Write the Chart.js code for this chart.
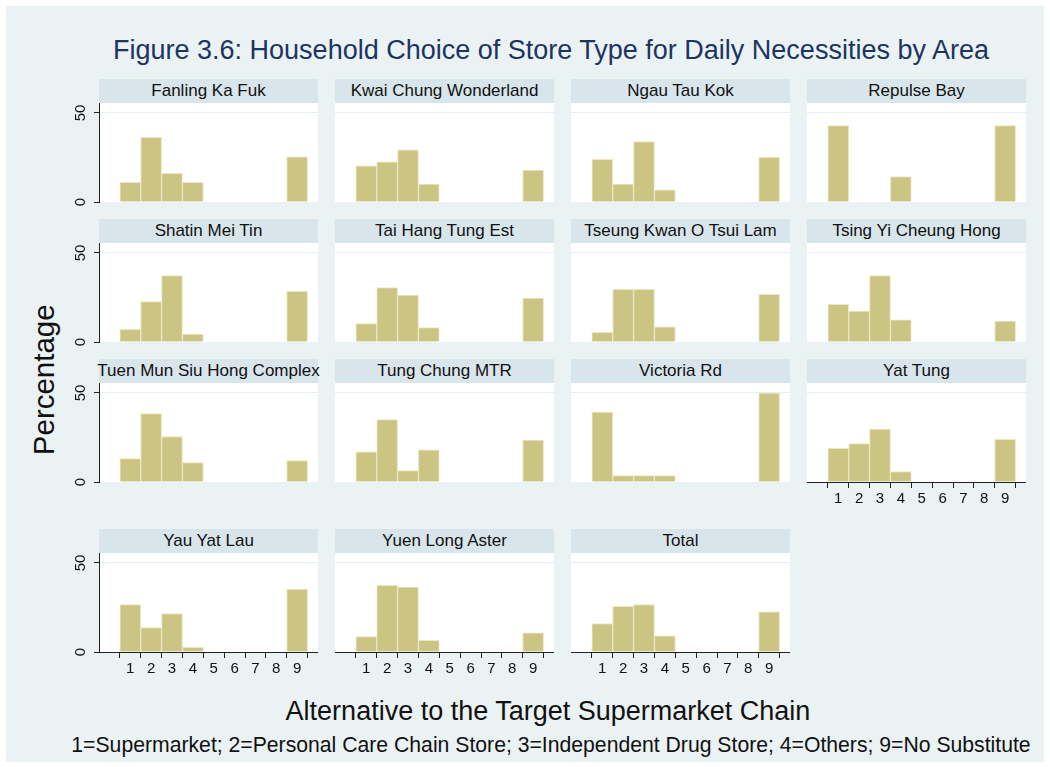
<!DOCTYPE html>
<html lang="en">
<head>
  <meta charset="UTF-8" />
  <title>Figure 3.6</title>
  <style>
    body {
      margin: 0;
      background: #ffffff;
      font-family: 'Liberation Sans', Arial, sans-serif;
      color: #111;
    }

    #frame {
      position: absolute;
      left: 6px;
      top: 6px;
      width: 1038px;
      height: 756px;
      background: #eaf2f3;
    }

    .strip {
      position: absolute;
      width: 219px;
      height: 24px;
      background: #d8e5eb;
      font-size: 17px;
      line-height: 24px;
      display: flex;
      justify-content: center;
      white-space: nowrap;
    }

    .panel {
      position: absolute;
    }

    .label {
      position: absolute;
      white-space: nowrap;
      text-align: center;
      line-height: 1;
    }

    #title {
      left: 51px;
      width: 1000px;
      top: 37px;
      font-size: 27px;
      color: #1d3461;
    }

    #x-title {
      left: 48px;
      width: 1000px;
      top: 698px;
      font-size: 27px;
    }

    #note {
      left: 51px;
      width: 1000px;
      top: 734px;
      font-size: 21.2px;
    }

    #y-title {
      left: -56px;
      width: 200px;
      top: 365px;
      font-size: 29.5px;
      transform: rotate(-90deg);
    }
  </style>
</head>
<body>
  <div id="frame"></div>
  <div class="label" id="title">Figure 3.6: Household Choice of Store Type for Daily Necessities by Area</div>
  <div class="label" id="y-title">Percentage</div>
  <div class="label" id="x-title">Alternative to the Target Supermarket Chain</div>
  <div class="label" id="note">1=Supermarket; 2=Personal Care Chain Store; 3=Independent Drug Store; 4=Others; 9=No Substitute</div>
  <div id="panels"></div>

  <script src="https://cdn.jsdelivr.net/npm/chart.js"></script>
  <script>
    // store type codes (x) and the percentage in each area
    const categories = [1, 2, 3, 4, 9];
    const xTicks = [1, 2, 3, 4, 5, 6, 7, 8, 9];
    const yTicks = [0, 50];

    const fanlingKaFuk = [11.1, 36.3, 16.1, 11.1, 25.4];
    const kwaiChungWonderland = [20.3, 22.5, 29.3, 10.1, 17.9];
    const ngauTauKok = [24.0, 10.0, 34.0, 6.9, 25.1];
    const repulseBay = [42.9, null, null, 14.3, 42.9];
    const shatinMeiTin = [7.1, 22.7, 37.3, 4.5, 28.4];
    const taiHangTungEst = [10.3, 30.6, 26.4, 8.1, 24.6];
    const tseungKwanO = [5.5, 29.6, 29.6, 8.5, 26.8];
    const tsingYiCheungHong = [21.1, 17.4, 37.3, 12.4, 11.8];
    const tuenMunSiuHong = [13.1, 38.4, 25.5, 10.9, 12.1];
    const tungChungMTR = [17.0, 35.0, 6.4, 18.1, 23.5];
    const victoriaRd = [39.3, 3.6, 3.6, 3.6, 50.0];
    const yatTung = [18.9, 21.6, 29.7, 5.9, 23.9];
    const yauYatLau = [26.7, 13.7, 21.6, 2.6, 35.4];
    const yuenLongAster = [8.7, 37.5, 36.4, 6.6, 10.8];
    const total = [16.0, 25.7, 26.7, 9.1, 22.5];

    const panels = [
      ['Fanling Ka Fuk', fanlingKaFuk],
      ['Kwai Chung Wonderland', kwaiChungWonderland],
      ['Ngau Tau Kok', ngauTauKok],
      ['Repulse Bay', repulseBay],
      ['Shatin Mei Tin', shatinMeiTin],
      ['Tai Hang Tung Est', taiHangTungEst],
      ['Tseung Kwan O Tsui Lam', tseungKwanO],
      ['Tsing Yi Cheung Hong', tsingYiCheungHong],
      ['Tuen Mun Siu Hong Complex', tuenMunSiuHong],
      ['Tung Chung MTR', tungChungMTR],
      ['Victoria Rd', victoriaRd],
      ['Yat Tung', yatTung],
      ['Yau Yat Lau', yauYatLau],
      ['Yuen Long Aster', yuenLongAster],
      ['Total', total],
    ];

    // grid geometry
    const colLeft = [99, 335, 571, 807];
    const rowZero = [202, 342, 482, 652];
    const plotW = 219;
    const plotH = 99;
    const axisW = 40;
    const axisH = 35;
    const ink = '#222';
    const font = { family: "'Liberation Sans', Arial, sans-serif", size: 15 };

    // keep every plot area the same size: no label overhang padding
    function fixSize(scale, w, h) {
      if (w !== null) scale.width = w;
      if (h !== null) scale.height = h;
      scale.paddingLeft = 0;
      scale.paddingRight = 0;
      scale.paddingTop = 0;
      scale.paddingBottom = 0;
    }

    const plotBackground = {
      id: 'plotBackground',
      beforeDraw(chart) {
        const { ctx, chartArea: a } = chart;
        ctx.save();
        ctx.fillStyle = '#ffffff';
        ctx.fillRect(a.left, a.top, a.width, a.height);
        ctx.restore();
      },
    };

    const holder = document.getElementById('panels');

    panels.forEach(([name, values], i) => {
      const col = i % 4;
      const row = Math.floor(i / 4);
      const showY = col === 0;
      const showX = row === 3 || (row === 2 && col === 3);
      const yw = showY ? axisW : 0;
      // a little room under the plot so the rotated "0" is not cut off
      const xh = showX ? axisH : 10;
      const plotTop = rowZero[row] - plotH;

      const strip = document.createElement('div');
      strip.className = 'strip';
      strip.style.left = colLeft[col] + 'px';
      strip.style.top = (plotTop - 24) + 'px';
      strip.textContent = name;
      holder.appendChild(strip);

      const canvas = document.createElement('canvas');
      canvas.className = 'panel';
      canvas.width = plotW + yw;
      canvas.height = plotH + xh;
      canvas.style.left = (colLeft[col] - yw) + 'px';
      canvas.style.top = plotTop + 'px';
      holder.appendChild(canvas);

      new Chart(canvas, {
        type: 'bar',
        data: {
          datasets: [{
            data: categories.map((c, k) => ({ x: c, y: values[k] })),
            backgroundColor: '#cbc482',
            borderColor: '#ebe7c3',
            borderWidth: 1,
            barPercentage: 1,
            categoryPercentage: 1,
          }],
        },
        options: {
          responsive: false,
          animation: false,
          devicePixelRatio: 1,
          layout: { padding: 0, autoPadding: false },
          plugins: { legend: { display: false }, tooltip: { enabled: false } },
          scales: {
            x: {
              type: 'linear',
              min: -0.5,
              max: 10,
              offset: false,
              afterBuildTicks: (s) => { s.ticks = xTicks.map((v) => ({ value: v })); },
              afterFit: (s) => fixSize(s, null, xh),
              border: { display: showX, color: ink },
              grid: { display: showX, drawOnChartArea: false, tickLength: 6, tickColor: ink },
              ticks: { display: showX, autoSkip: false, maxRotation: 0, padding: 2, color: '#111', font },
            },
            y: {
              min: 0,
              max: 55.6,
              afterBuildTicks: (s) => { s.ticks = yTicks.map((v) => ({ value: v })); },
              afterFit: (s) => fixSize(s, yw, null),
              border: { display: showY, color: ink },
              grid: {
                color: (c) => (c.tick && c.tick.value === 50 ? '#e5eef0' : 'rgba(0,0,0,0)'),
                drawTicks: showY,
                tickLength: 5,
                tickColor: ink,
              },
              ticks: {
                display: showY,
                minRotation: 90,
                maxRotation: 90,
                crossAlign: 'center',
                padding: 5,
                color: '#111',
                font,
              },
            },
          },
        },
        plugins: [plotBackground],
      });
    });
  </script>
</body>
</html>
